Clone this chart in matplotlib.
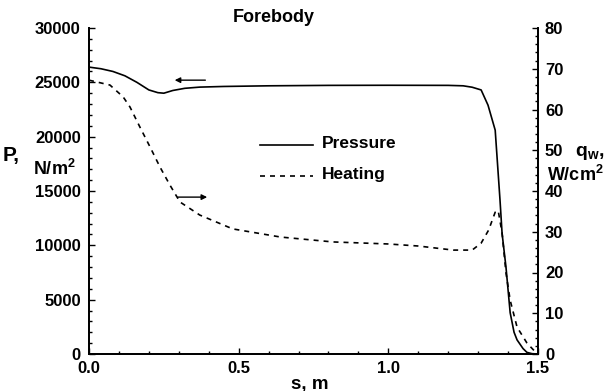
import matplotlib
matplotlib.use("Agg")
import matplotlib.pyplot as plt
from matplotlib.ticker import MultipleLocator

plt.rcParams['font.family'] = 'Liberation Sans'
plt.rcParams['font.weight'] = 'bold'
plt.rcParams['mathtext.fontset'] = 'custom'
plt.rcParams['mathtext.bf'] = 'Liberation Sans:bold'
plt.rcParams['mathtext.rm'] = 'Liberation Sans:bold'
plt.rcParams['mathtext.default'] = 'bf'

# pressure along the forebody (left axis, N/m^2)
s_p = [0.0, 0.04, 0.08, 0.12, 0.16, 0.2, 0.23, 0.25, 0.28, 0.32, 0.37, 0.45,
       0.6, 0.8, 1.0, 1.2, 1.25, 1.28, 1.31, 1.333, 1.357, 1.373, 1.38, 1.393,
       1.407, 1.42, 1.43, 1.45, 1.463, 1.48, 1.5]
pressure = [26400, 26250, 26000, 25600, 25000, 24300, 24050, 24000, 24250,
            24450, 24560, 24620, 24680, 24720, 24730, 24720, 24680, 24550,
            24300, 22900, 20600, 14200, 11100, 8000, 3800, 2000, 1300, 500,
            150, 30, 0]

# heating along the forebody (right axis, W/cm^2)
s_q = [0.0, 0.07, 0.114, 0.137, 0.17, 0.204, 0.237, 0.27, 0.304, 0.37, 0.48,
       0.64, 0.815, 1.0, 1.1, 1.217, 1.28, 1.31, 1.335, 1.357, 1.367, 1.38,
       1.393, 1.407, 1.43, 1.463, 1.49, 1.5]
heating = [67.2, 66.0, 63.1, 60.6, 55.7, 50.8, 45.9, 41.5, 37.3, 34.1, 30.7,
           28.7, 27.5, 27.0, 26.5, 25.5, 25.5, 27.2, 30.4, 34.8, 35.2, 29.7,
           19.9, 13.2, 6.6, 2.7, 0.6, 0.2]

W, H = 608, 391
fig = plt.figure(figsize=(W / 100, H / 100), dpi=100)
ax = fig.add_axes([89 / W, 1 - 354 / H, (538 - 89) / W, (354 - 28) / H])
ax2 = ax.twinx()

ax.plot(s_p, pressure, color='black', lw=1.2)
ax2.plot(s_q, heating, color='black', lw=1.2, linestyle=(0, (3, 3)))

ax.set_xlim(0, 1.5)
ax.set_ylim(0, 30000)
ax2.set_ylim(0, 80)

ax.xaxis.set_major_locator(MultipleLocator(0.5))
ax.xaxis.set_minor_locator(MultipleLocator(0.1))
ax.yaxis.set_major_locator(MultipleLocator(5000))
ax.yaxis.set_minor_locator(MultipleLocator(1000))
ax2.yaxis.set_major_locator(MultipleLocator(10))
ax2.yaxis.set_minor_locator(MultipleLocator(2))
ax.xaxis.set_major_formatter(lambda v, pos: f'{v:.1f}')

for a in (ax, ax2):
    a.spines['top'].set_visible(False)
    for sp in a.spines.values():
        sp.set_linewidth(1.3)
    a.tick_params(which='both', direction='in', labelsize=12, width=1)
    a.tick_params(which='major', length=4)
    a.tick_params(which='minor', length=2.5)
ax.tick_params(axis='y', pad=6)
ax.tick_params(axis='x', pad=5)
ax2.tick_params(axis='y', pad=5)
ax.tick_params(axis='x', which='both', top=False)

# arrows pointing to the matching axis
ax.annotate('', xy=(0.277, 25200), xytext=(0.398, 25200),
            arrowprops=dict(arrowstyle='-|>', color='black', lw=1,
                            mutation_scale=8))
ax2.annotate('', xy=(0.404, 38.5), xytext=(0.287, 38.5),
             arrowprops=dict(arrowstyle='-|>', color='black', lw=1,
                             mutation_scale=8))

# legend drawn by hand
ax.plot([0.381, 0.499], [0.641, 0.641], transform=ax.transAxes,
        color='black', lw=1.2)
ax.plot([0.381, 0.499], [0.546, 0.546], transform=ax.transAxes,
        color='black', lw=1.2, linestyle=(0, (3, 3)))
ax.text(0.519, 0.645, 'Pressure', transform=ax.transAxes, fontsize=12.5,
        va='center', ha='left')
ax.text(0.519, 0.550, 'Heating', transform=ax.transAxes, fontsize=12.5,
        va='center', ha='left')

fig.text(274 / W, 1 - 17 / H, 'Forebody', fontsize=13, ha='center',
         va='center')
fig.text(3 / W, 1 - 155 / H, 'P,', fontsize=15, ha='left', va='center')
fig.text(54 / W, 1 - 169 / H, 'N/m$^2$', fontsize=13, ha='center',
         va='center')
fig.text(590 / W, 1 - 153 / H, 'q$_w$,', fontsize=14, ha='center',
         va='center')
fig.text(575 / W, 1 - 175 / H, 'W/cm$^2$', fontsize=13, ha='center',
         va='center')
fig.text(310 / W, 1 - 384 / H, 's, m', fontsize=13.5, ha='center',
         va='center')

fig.savefig('out.png', dpi=100)
